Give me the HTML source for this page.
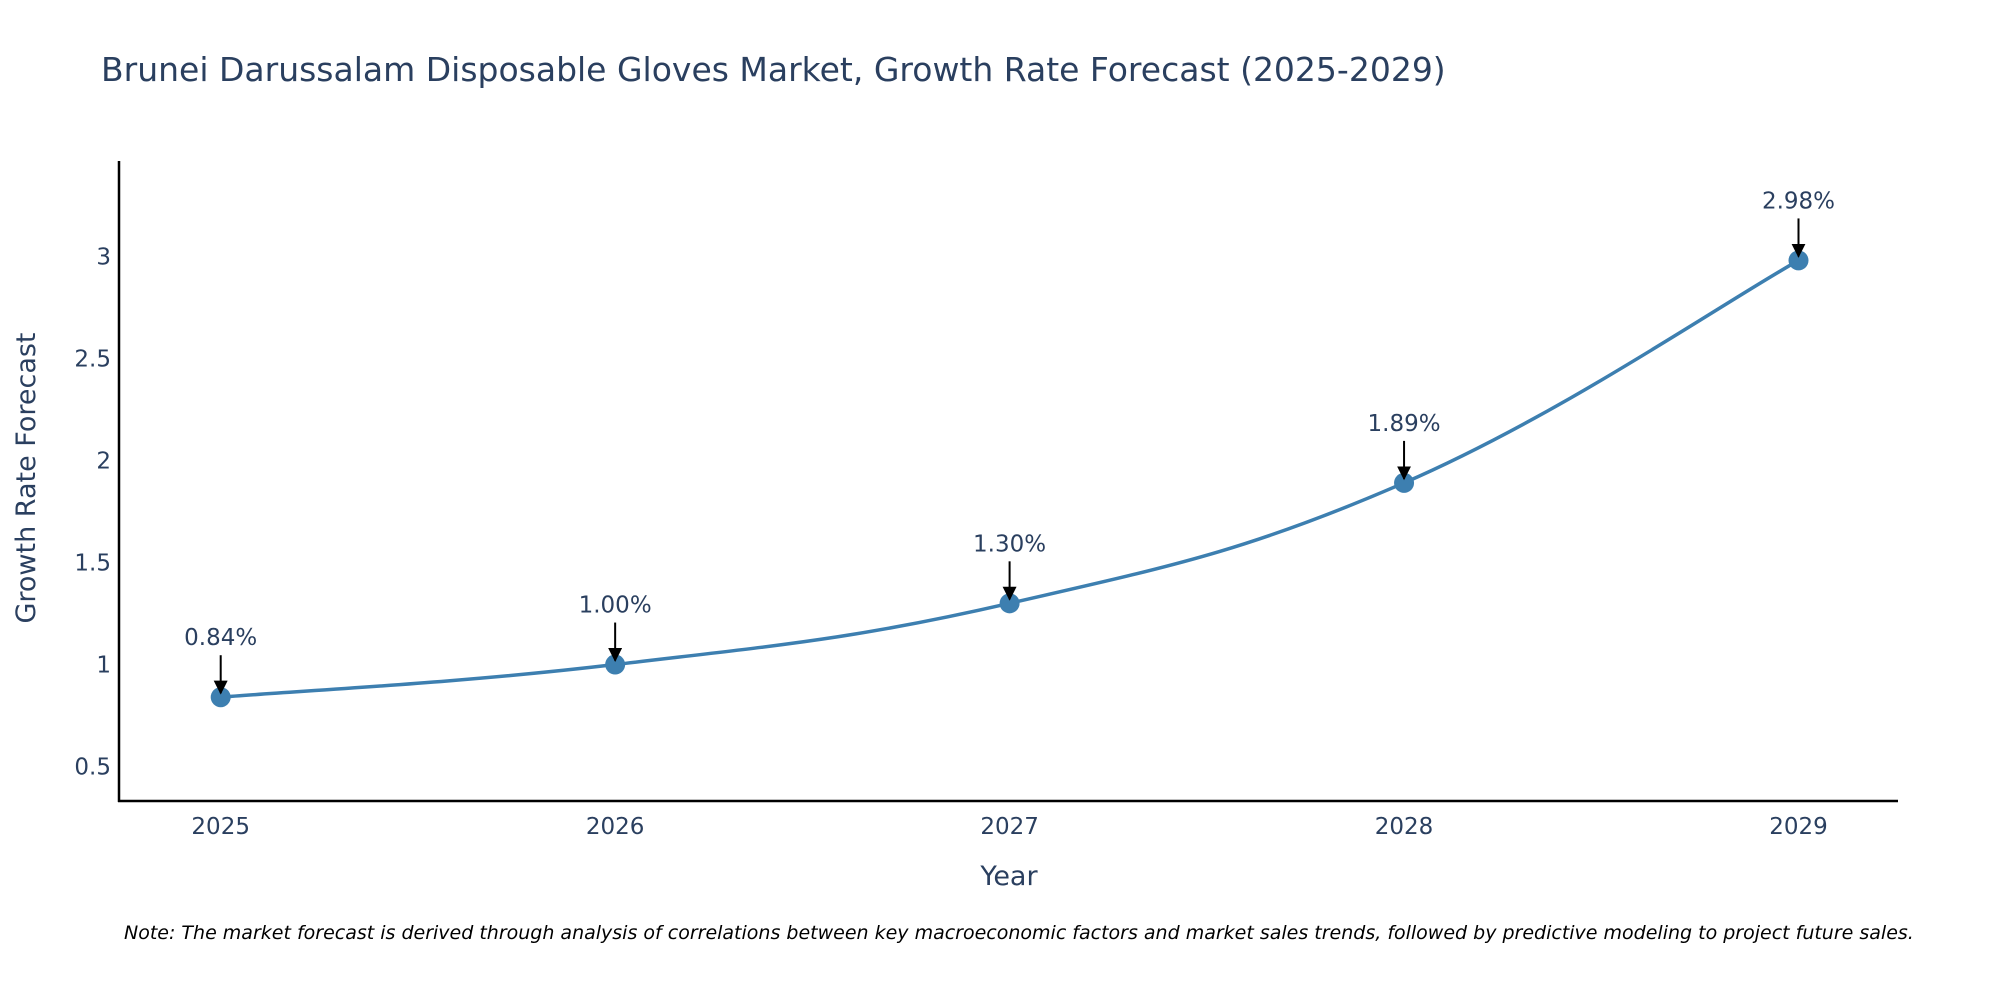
<!DOCTYPE html>
<html><head><meta charset="utf-8"><style>
body{margin:0;background:#fff;}
svg{display:block;font-family:"DejaVu Sans","Liberation Sans",sans-serif;}
</style></head><body>
<svg id="chart" width="2000" height="1000" viewBox="0 0 2000 1000">
<text x="101" y="81" font-size="33" fill="#2a3f5f">Brunei Darussalam Disposable Gloves Market, Growth Rate Forecast (2025-2029)</text>
<g id="yticks"></g>
<g id="xticks"></g>
<line x1="119" y1="161" x2="119" y2="802" stroke="#000" stroke-width="2.5"/>
<line x1="118" y1="801" x2="1898" y2="801" stroke="#000" stroke-width="2.5"/>
<path id="line" fill="none" stroke="#3d7fb0" stroke-width="3.5"/>
<g id="points"></g>
<g id="annots"></g>
<text x="0" y="0" transform="translate(35,478) rotate(-90)" text-anchor="middle" font-size="27" fill="#2a3f5f">Growth Rate Forecast</text>
<text x="1009" y="885" text-anchor="middle" font-size="27" fill="#2a3f5f">Year</text>
<text x="124" y="939" font-size="19" font-style="italic" fill="#000">Note: The market forecast is derived through analysis of correlations between key macroeconomic factors and market sales trends, followed by predictive modeling to project future sales.</text>
<defs><marker id="arr" viewBox="0 0 10 10" refX="9" refY="5" markerWidth="7" markerHeight="7" orient="auto"><path d="M0,0L10,5L0,10z" fill="#000"/></marker></defs>
</svg>
<script>
const years=[2025,2026,2027,2028,2029];
const values=[0.84,1.00,1.30,1.89,2.98];
const labels=["0.84%","1.00%","1.30%","1.89%","2.98%"];
const yTicks=[0.5,1,1.5,2,2.5,3];
const NS="http://www.w3.org/2000/svg";
function xs(y){return 220.7+(y-2025)*394.45;}
function ys(v){return 766.6-(v-0.5)*204.1;}
function mk(t,a,parent){const e=document.createElementNS(NS,t);for(const k in a)e.setAttribute(k,a[k]);parent.appendChild(e);return e;}
const yt=document.getElementById('yticks');
yTicks.forEach(v=>{const t=mk('text',{x:111,y:ys(v)+8,'text-anchor':'end','font-size':23,fill:'#2a3f5f'},yt);


t.textContent=String(v);});
const xt=document.getElementById('xticks');
years.forEach(y=>{const t=mk('text',{x:xs(y),y:834,'text-anchor':'middle','font-size':23,fill:'#2a3f5f'},xt);


t.textContent=String(y);});
const P=years.map((y,i)=>[xs(y),ys(values[i])]);
let d=`M${P[0][0]},${P[0][1]}`;const s=0.2;
for(let i=0;i<P.length-1;i++){const p0=P[Math.max(0,i-1)],p1=P[i],p2=P[i+1],p3=P[Math.min(P.length-1,i+2)];
const c1=[p1[0]+(p2[0]-p0[0])*s,p1[1]+(p2[1]-p0[1])*s],c2=[p2[0]-(p3[0]-p1[0])*s,p2[1]-(p3[1]-p1[1])*s];
d+=` C${c1[0]},${c1[1]} ${c2[0]},${c2[1]} ${p2[0]},${p2[1]}`;}
document.getElementById('line').setAttribute('d',d);
const pg=document.getElementById('points'),ag=document.getElementById('annots');
P.forEach((p,i)=>{const c=mk('circle',{cx:p[0],cy:p[1],r:10,fill:'#3d7fb0'},pg);


const l=mk('line',{x1:p[0],y1:p[1]-42,x2:p[0],y2:p[1]-4,stroke:'#000','stroke-width':2,'marker-end':'url(#arr)'},ag);


const t=mk('text',{x:p[0],y:p[1]-52,'text-anchor':'middle','font-size':23,fill:'#2a3f5f'},ag);


t.textContent=labels[i];});
</script>
</body></html>
